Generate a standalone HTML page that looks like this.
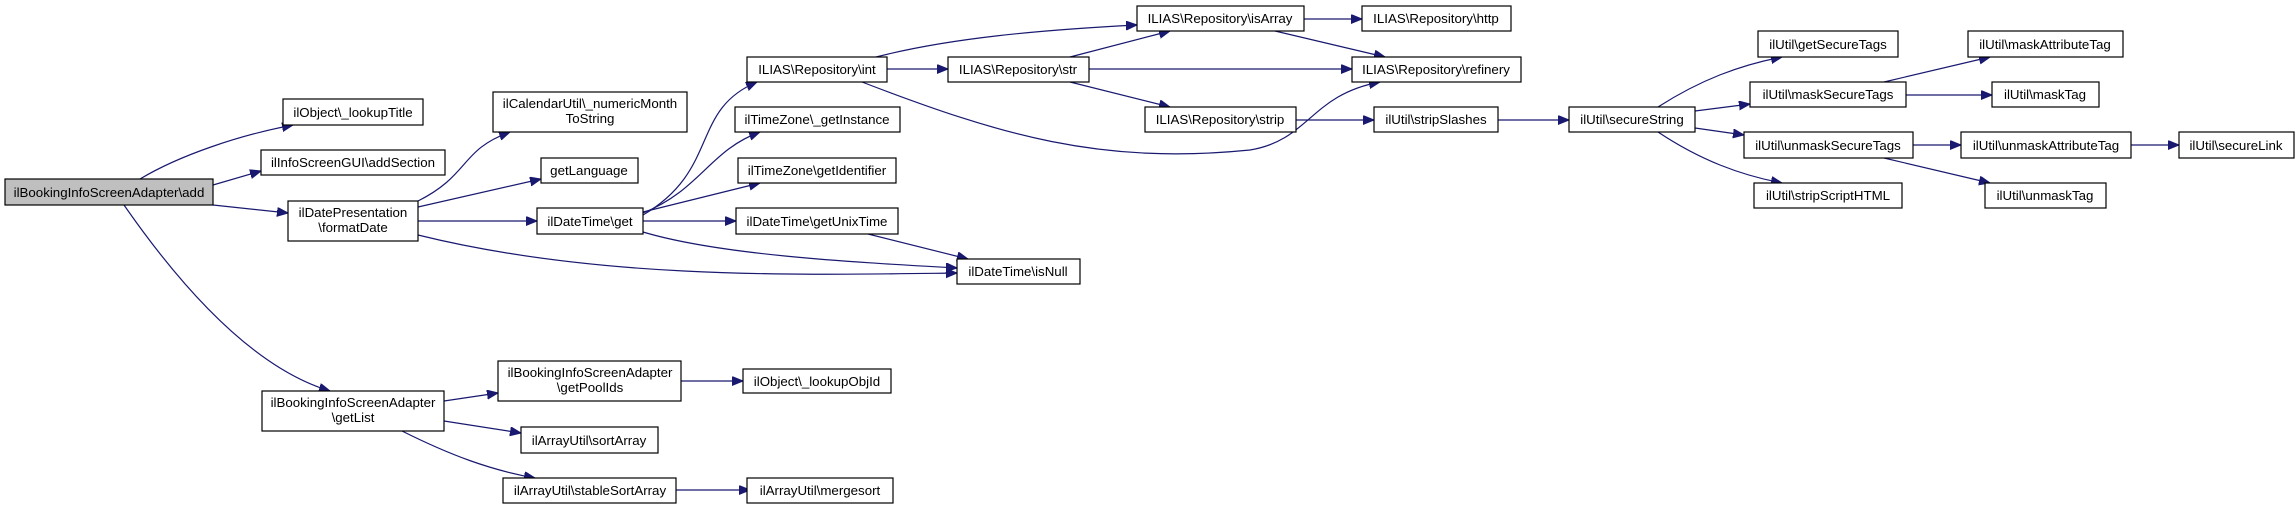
<!DOCTYPE html>
<html><head><meta charset="utf-8"><style>
html,body{margin:0;padding:0;background:#fff;}
svg{display:block;}
text{font-family:"Liberation Sans",Arial,sans-serif;font-size:13.3px;fill:#000;text-anchor:middle;}
rect{fill:#fff;stroke:#000;stroke-width:1.2;}
path{fill:none;stroke:#191970;stroke-width:1.2;}
</style></head><body>
<svg width="2296" height="509" viewBox="0 0 2296 509" xmlns="http://www.w3.org/2000/svg">
<defs><marker id="a" markerUnits="userSpaceOnUse" markerWidth="12" markerHeight="10" refX="11" refY="4.5" orient="auto"><path d="M0,0 L11,4.5 L0,9 Z" style="fill:#191970;stroke:#191970;stroke-width:1"/></marker></defs>
<g marker-end="url(#a)">
<path d="M140,179 C180,155 240,135 293,125"/>
<path d="M213,185 L261,171"/>
<path d="M213,205 L288,213"/>
<path d="M124,205 C190,300 260,370 330,391"/>
<path d="M418,201 C470,175 460,150 510,132"/>
<path d="M418,207 L541,179"/>
<path d="M418,221 L537,221"/>
<path d="M418,235 C600,280 800,275 957,273"/>
<path d="M643,215 C720,170 690,110 757,82"/>
<path d="M643,213 C700,190 710,150 760,132"/>
<path d="M643,212 L760,183"/>
<path d="M643,221 L736,221"/>
<path d="M643,232 C720,255 850,262 957,268"/>
<path d="M868,234 L968,259"/>
<path d="M876,57 C950,38 1040,30 1137,25"/>
<path d="M887,69 L948,69"/>
<path d="M862,82 C1000,135 1100,165 1250,150 C1310,140 1310,95 1380,82"/>
<path d="M1070,57 L1170,31"/>
<path d="M1089,69 L1352,69"/>
<path d="M1070,82 L1170,107"/>
<path d="M1304,19 L1362,19"/>
<path d="M1275,31 L1385,57"/>
<path d="M1296,120 L1374,120"/>
<path d="M1498,120 L1569,120"/>
<path d="M1658,107 C1700,80 1740,65 1782,57"/>
<path d="M1695,111 L1750,104"/>
<path d="M1695,128 L1744,135"/>
<path d="M1658,132 C1700,160 1740,175 1782,183"/>
<path d="M1884,82 L1990,57"/>
<path d="M1906,95 L1992,95"/>
<path d="M1913,145 L1961,145"/>
<path d="M1884,158 L1990,183"/>
<path d="M2131,145 L2179,145"/>
<path d="M444,401 L498,393"/>
<path d="M444,421 L521,433"/>
<path d="M402,431 C450,455 490,470 535,478"/>
<path d="M681,381 L743,381"/>
<path d="M676,490 L750,490"/>
</g>
<rect x="5" y="179" width="208" height="26" style="fill:#bfbfbf"/><text x="109" y="197">ilBookingInfoScreenAdapter\add</text>
<rect x="283" y="99" width="140" height="26"/><text x="353" y="117">ilObject\_lookupTitle</text>
<rect x="261" y="150" width="184" height="25"/><text x="353" y="167">ilInfoScreenGUI\addSection</text>
<rect x="288" y="201" width="130" height="40"/><text x="353" y="217">ilDatePresentation</text><text x="353" y="232">\formatDate</text>
<rect x="493" y="92" width="194" height="40"/><text x="590" y="108">ilCalendarUtil\_numericMonth</text><text x="590" y="123">ToString</text>
<rect x="541" y="158" width="97" height="25"/><text x="589" y="175">getLanguage</text>
<rect x="537" y="208" width="106" height="26"/><text x="590" y="226">ilDateTime\get</text>
<rect x="262" y="391" width="182" height="40"/><text x="353" y="407">ilBookingInfoScreenAdapter</text><text x="353" y="422">\getList</text>
<rect x="498" y="361" width="183" height="40"/><text x="590" y="377">ilBookingInfoScreenAdapter</text><text x="590" y="392">\getPoolIds</text>
<rect x="521" y="427" width="137" height="26"/><text x="589" y="445">ilArrayUtil\sortArray</text>
<rect x="503" y="478" width="173" height="25"/><text x="590" y="495">ilArrayUtil\stableSortArray</text>
<rect x="743" y="369" width="148" height="24"/><text x="817" y="386">ilObject\_lookupObjId</text>
<rect x="747" y="478" width="146" height="25"/><text x="820" y="495">ilArrayUtil\mergesort</text>
<rect x="747" y="57" width="140" height="25"/><text x="817" y="74">ILIAS\Repository\int</text>
<rect x="735" y="107" width="165" height="25"/><text x="817" y="124">ilTimeZone\_getInstance</text>
<rect x="738" y="158" width="158" height="25"/><text x="817" y="175">ilTimeZone\getIdentifier</text>
<rect x="736" y="208" width="162" height="26"/><text x="817" y="226">ilDateTime\getUnixTime</text>
<rect x="957" y="259" width="123" height="25"/><text x="1018" y="276">ilDateTime\isNull</text>
<rect x="948" y="57" width="141" height="25"/><text x="1018" y="74">ILIAS\Repository\str</text>
<rect x="1137" y="6" width="167" height="25"/><text x="1220" y="23">ILIAS\Repository\isArray</text>
<rect x="1362" y="6" width="149" height="25"/><text x="1436" y="23">ILIAS\Repository\http</text>
<rect x="1352" y="57" width="169" height="25"/><text x="1436" y="74">ILIAS\Repository\refinery</text>
<rect x="1145" y="107" width="151" height="25"/><text x="1220" y="124">ILIAS\Repository\strip</text>
<rect x="1374" y="107" width="124" height="25"/><text x="1436" y="124">ilUtil\stripSlashes</text>
<rect x="1569" y="107" width="126" height="25"/><text x="1632" y="124">ilUtil\secureString</text>
<rect x="1758" y="31" width="140" height="26"/><text x="1828" y="49">ilUtil\getSecureTags</text>
<rect x="1750" y="82" width="156" height="25"/><text x="1828" y="99">ilUtil\maskSecureTags</text>
<rect x="1744" y="132" width="169" height="26"/><text x="1828" y="150">ilUtil\unmaskSecureTags</text>
<rect x="1754" y="183" width="148" height="25"/><text x="1828" y="200">ilUtil\stripScriptHTML</text>
<rect x="1968" y="31" width="155" height="26"/><text x="2045" y="49">ilUtil\maskAttributeTag</text>
<rect x="1992" y="82" width="107" height="25"/><text x="2045" y="99">ilUtil\maskTag</text>
<rect x="1961" y="132" width="170" height="26"/><text x="2046" y="150">ilUtil\unmaskAttributeTag</text>
<rect x="2179" y="132" width="115" height="26"/><text x="2236" y="150">ilUtil\secureLink</text>
<rect x="1985" y="183" width="121" height="25"/><text x="2045" y="200">ilUtil\unmaskTag</text>
</svg>
</body></html>
